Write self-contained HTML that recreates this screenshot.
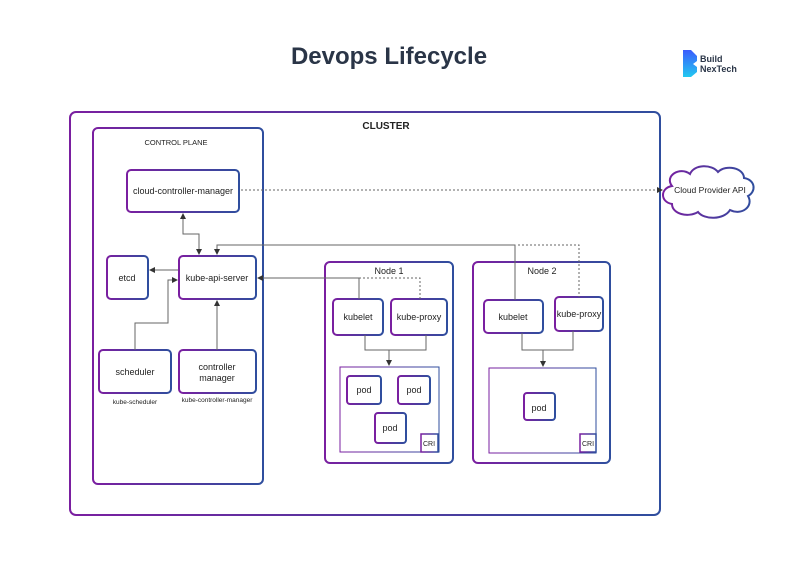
<!DOCTYPE html>
<html><head><meta charset="utf-8"><style>
body{margin:0;background:#fff;}
svg{display:block;font-family:"Liberation Sans",sans-serif;}
</style></head><body>
<svg width="787" height="564" viewBox="0 0 787 564" xmlns="http://www.w3.org/2000/svg">
<defs>
<linearGradient id="g" x1="0" y1="0" x2="1" y2="0"><stop offset="0" stop-color="#7a1fa0"/><stop offset="1" stop-color="#2f4e9e"/></linearGradient>
<linearGradient id="lg" x1="0" y1="0" x2="0" y2="1"><stop offset="0" stop-color="#3b5bfd"/><stop offset="1" stop-color="#22c9f0"/></linearGradient>
<marker id="a" markerWidth="6" markerHeight="6" refX="5" refY="3" orient="auto"><path d="M0,0 L6,3 L0,6z" fill="#333"/></marker>
<marker id="as" markerWidth="6" markerHeight="6" refX="1" refY="3" orient="auto"><path d="M6,0 L0,3 L6,6z" fill="#333"/></marker>
</defs>
<rect width="787" height="564" fill="#fff"/>
<text x="389" y="64" text-anchor="middle" font-size="24" font-weight="bold" fill="#2a3547">Devops Lifecycle</text>
<path d="M683,50 h8 l6,6 v5 l-4,3 l4,3 v5 l-6,5 h-8z" fill="url(#lg)"/>
<text x="700" y="62" font-size="9" font-weight="bold" fill="#2a3547">Build</text>
<text x="700" y="72" font-size="9" font-weight="bold" fill="#2a3547">NexTech</text>
<g fill="none" stroke="url(#g)" stroke-width="2">
<rect x="70" y="112" width="590" height="403" rx="6"/>
<rect x="93" y="128" width="170" height="356" rx="5"/>
<rect x="127" y="170" width="112" height="42" rx="4"/>
<rect x="107" y="256" width="41" height="43" rx="4"/>
<rect x="179" y="256" width="77" height="43" rx="4"/>
<rect x="99" y="350" width="72" height="43" rx="4"/>
<rect x="179" y="350" width="77" height="43" rx="4"/>
<rect x="325" y="262" width="128" height="201" rx="5"/>
<rect x="333" y="299" width="50" height="36" rx="4"/>
<rect x="391" y="299" width="56" height="36" rx="4"/>
<rect x="347" y="376" width="34" height="28" rx="3"/>
<rect x="398" y="376" width="32" height="28" rx="3"/>
<rect x="375" y="413" width="31" height="30" rx="3"/>
<rect x="473" y="262" width="137" height="201" rx="5"/>
<rect x="484" y="300" width="59" height="33" rx="4"/>
<rect x="555" y="297" width="48" height="34" rx="4"/>
<rect x="524" y="393" width="31" height="27" rx="3"/>
<path d="M672,186 c-8,-10 8,-20 18,-12 c4,-10 22,-10 28,-2 c8,-8 26,-4 26,6 c12,2 12,14 4,18 c6,10 -6,20 -18,14 c-6,10 -26,10 -32,2 c-10,6 -26,2 -26,-8 c-12,-2 -12,-16 0,-18z"/>
</g>
<g fill="none" stroke="url(#g)" stroke-width="1">
<rect x="340" y="367" width="99" height="85"/>
<rect x="489" y="368" width="107" height="85"/>
</g>
<g fill="none" stroke="url(#g)" stroke-width="1.5">
<rect x="421" y="434" width="17" height="18"/>
<rect x="580" y="434" width="16" height="18"/>
</g>
<g fill="none" stroke="#666" stroke-width="1">
<path d="M183,214 V234 H199 V254" marker-start="url(#as)" marker-end="url(#a)"/>
<path d="M515,300 V245 H217 V254" marker-end="url(#a)"/>
<path d="M359,299 V278 H258" marker-end="url(#a)"/>
<path d="M178,270 H150" marker-end="url(#a)"/>
<path d="M135,350 V323 H168 V280 H177" marker-end="url(#a)"/>
<path d="M217,350 V301" marker-end="url(#a)"/>
<path d="M365,335 V350 H426 V335 M389,350 V365" />
<path d="M389,355 V365" marker-end="url(#a)"/>
<path d="M522,333 V350 H573 V331 M543,350 V366" marker-end="url(#a)"/>
</g>
<g fill="none" stroke="#666" stroke-width="1" stroke-dasharray="2,2">
<path d="M241,190 H662" marker-end="url(#a)"/>
<path d="M359,278 H420 V299"/>
<path d="M518,245 H579 V297"/>
</g>
<g font-size="9" fill="#222" text-anchor="middle">
<text x="386" y="129" font-weight="bold" font-size="10">CLUSTER</text>
<text x="176" y="145" font-size="7.5">CONTROL PLANE</text>
<text x="183" y="194">cloud-controller-manager</text>
<text x="127" y="281">etcd</text>
<text x="217" y="281">kube-api-server</text>
<text x="135" y="375">scheduler</text>
<text x="217" y="370">controller</text>
<text x="217" y="381">manager</text>
<text x="135" y="404" font-size="6.5">kube-scheduler</text>
<text x="217" y="402" font-size="6.5">kube-controller-manager</text>
<text x="389" y="274">Node 1</text>
<text x="358" y="320">kubelet</text>
<text x="419" y="320">kube-proxy</text>
<text x="364" y="393">pod</text>
<text x="414" y="393">pod</text>
<text x="390" y="431">pod</text>
<text x="429" y="446" font-size="7">CRI</text>
<text x="542" y="274">Node 2</text>
<text x="513" y="320">kubelet</text>
<text x="579" y="317">kube-proxy</text>
<text x="539" y="411">pod</text>
<text x="588" y="446" font-size="7">CRI</text>
<text x="710" y="193" font-size="8.5">Cloud Provider API</text>
</g>
</svg>
</body></html>
